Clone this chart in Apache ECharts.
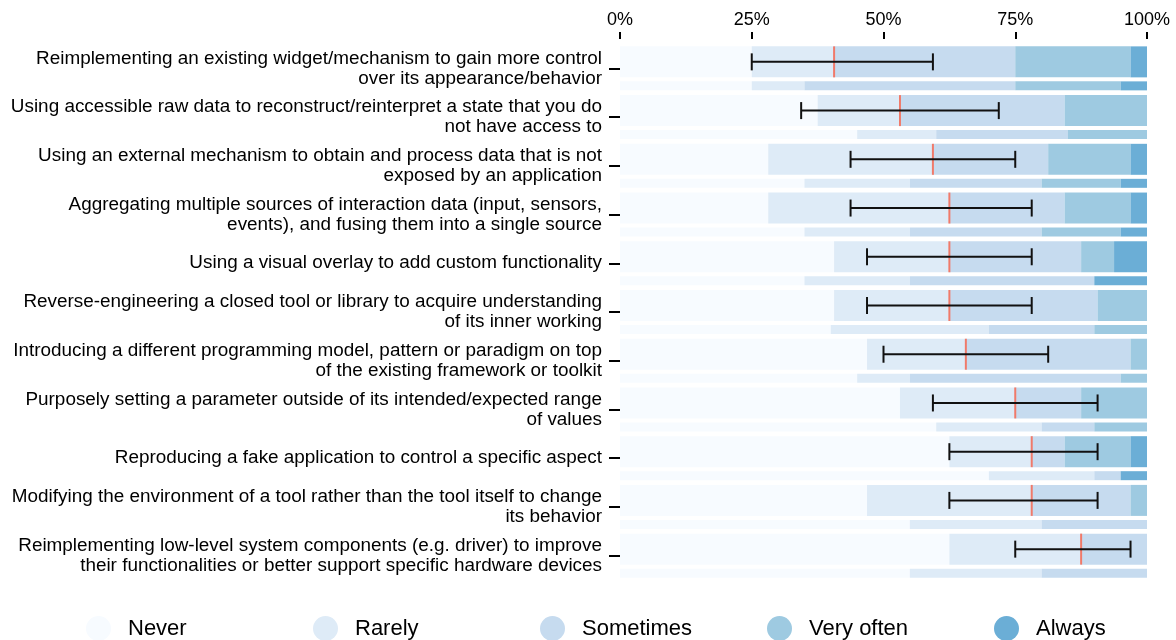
<!DOCTYPE html>
<html>
<head>
<meta charset="utf-8">
<script src="https://cdn.jsdelivr.net/npm/echarts@6/dist/echarts.min.js"></script>
<style>
  html, body { margin: 0; padding: 0; background: #fff; }
  #chart { width: 1176px; height: 640px; }
</style>
</head>
<body>
<div id="chart"></div>
<script>
// ---------- DATA ----------
const categories = [
  "Reimplementing an existing widget/mechanism to gain more control\nover its appearance/behavior",
  "Using accessible raw data to reconstruct/reinterpret a state that you do\nnot have access to",
  "Using an external mechanism to obtain and process data that is not\nexposed by an application",
  "Aggregating multiple sources of interaction data (input, sensors,\nevents), and fusing them into a single source",
  "Using a visual overlay to add custom functionality",
  "Reverse-engineering a closed tool or library to acquire understanding\nof its inner working",
  "Introducing a different programming model, pattern or paradigm on top\nof the existing framework or toolkit",
  "Purposely setting a parameter outside of its intended/expected range\nof values",
  "Reproducing a fake application to control a specific aspect",
  "Modifying the environment of a tool rather than the tool itself to change\nits behavior",
  "Reimplementing low-level system components (e.g. driver) to improve\ntheir functionalities or better support specific hardware devices"
];
const levels = ["Never", "Rarely", "Sometimes", "Very often", "Always"];

// main bars (% of respondents)
const mainNever     = [25, 37.5, 28.125, 28.125, 40.625, 40.625, 46.875, 53.125, 62.5, 46.875, 62.5];
const mainRarely    = [15.625, 15.625, 31.25, 34.375, 21.875, 21.875, 18.75, 21.875, 15.625, 31.25, 25];
const mainSometimes = [34.375, 31.25, 21.875, 21.875, 25, 28.125, 31.25, 12.5, 6.25, 18.75, 12.5];
const mainVeryOften = [21.875, 15.625, 15.625, 12.5, 6.25, 9.375, 3.125, 12.5, 12.5, 3.125, 0];
const mainAlways    = [3.125, 0, 3.125, 3.125, 6.25, 0, 0, 0, 3.125, 0, 0];

// secondary (thin) bars
const secNever     = [25, 45, 35, 35, 35, 40, 45, 60, 70, 55, 55];
const secRarely    = [10, 15, 20, 20, 20, 30, 10, 20, 20, 25, 25];
const secSometimes = [40, 25, 25, 25, 35, 20, 40, 10, 5, 20, 20];
const secVeryOften = [20, 15, 15, 15, 0, 10, 5, 10, 0, 0, 0];
const secAlways    = [5, 0, 5, 5, 10, 0, 0, 0, 5, 0, 0];

// interval (error bar) low/high and median marker
const errLow  = [25, 34.375, 43.75, 43.75, 46.875, 46.875, 50, 59.375, 62.5, 62.5, 75];
const errHigh = [59.375, 71.875, 75, 78.125, 78.125, 78.125, 81.25, 90.625, 90.625, 90.625, 96.875];
const median  = [40.625, 53.125, 59.375, 62.5, 62.5, 62.5, 65.625, 75, 78.125, 78.125, 87.5];

const xTicks = [0, 25, 50, 75, 100];

// ---------- STYLE ----------
const colors = ["#f7fbff", "#deebf7", "#c6dbef", "#9ecae1", "#6baed6"];
const MAIN_W = 31, SEC_W = 9, GAP_PX = 4;
const GAP_PCT = (GAP_PX / MAIN_W * 100) + '%';
const TOTAL_W = MAIN_W + GAP_PX + SEC_W;
const MAIN_OFFSET = -TOTAL_W / 2 + MAIN_W / 2;

const mainData = [mainNever, mainRarely, mainSometimes, mainVeryOften, mainAlways];
const secData = [secNever, secRarely, secSometimes, secVeryOften, secAlways];

const series = [];
levels.forEach((lv, i) => {
  series.push({
    name: lv, type: 'bar', stack: 'main', barWidth: MAIN_W, barGap: GAP_PCT,
    itemStyle: { color: colors[i] }, data: mainData[i], silent: true
  });
});
levels.forEach((lv, i) => {
  series.push({
    name: lv, type: 'bar', stack: 'sec', barWidth: SEC_W, barGap: GAP_PCT,
    itemStyle: { color: colors[i] }, data: secData[i], silent: true
  });
});
series.push({
  type: 'custom', name: 'interval', silent: true, z: 10,
  data: categories.map((c, i) => [i, errLow[i], errHigh[i], median[i]]),
  encode: { y: 0, x: [1, 2] },
  renderItem: function (params, api) {
    const idx = api.value(0);
    const lo = api.coord([api.value(1), idx]);
    const hi = api.coord([api.value(2), idx]);
    const md = api.coord([api.value(3), idx]);
    const y = lo[1] + MAIN_OFFSET;
    const capH = 17;
    const ls = { stroke: '#111', lineWidth: 2 };
    return {
      type: 'group',
      children: [
        { type: 'line', shape: { x1: md[0], y1: y - MAIN_W / 2, x2: md[0], y2: y + MAIN_W / 2 }, style: { stroke: '#f07a6a', lineWidth: 2 } },
        { type: 'line', shape: { x1: lo[0], y1: y, x2: hi[0], y2: y }, style: ls },
        { type: 'line', shape: { x1: lo[0], y1: y - capH / 2, x2: lo[0], y2: y + capH / 2 }, style: ls },
        { type: 'line', shape: { x1: hi[0], y1: y - capH / 2, x2: hi[0], y2: y + capH / 2 }, style: ls }
      ]
    };
  }
});

const legendLefts = [81, 308, 535, 762, 989];
const legends = levels.map((lv, i) => ({
  data: [lv], left: legendLefts[i], top: 611, icon: 'circle',
  itemWidth: 25, itemHeight: 25, selectedMode: false,
  textStyle: { fontSize: 22, color: '#000', fontFamily: 'Liberation Sans', padding: [0, 0, 0, 12] }
}));

const chart = echarts.init(document.getElementById('chart'), null, { renderer: 'canvas' });
chart.setOption({
  animation: false,
  backgroundColor: '#fff',
  textStyle: { fontFamily: 'Liberation Sans' },
  grid: { left: 620, right: 29, top: 44, bottom: 60, containLabel: false },
  legend: legends,
  xAxis: {
    type: 'value', position: 'top', min: 0, max: 100, interval: 25, offset: 5,
    axisLine: { show: false },
    axisTick: { show: true, length: 7, lineStyle: { color: '#000', width: 2 } },
    splitLine: { show: false },
    axisLabel: { margin: 10, fontSize: 18, color: '#000', fontFamily: 'Liberation Sans',
      formatter: v => xTicks.includes(v) ? v + '%' : '' }
  },
  yAxis: {
    type: 'category', data: categories, inverse: true,
    axisLine: { show: false },
    axisTick: { show: true, alignWithLabel: true, length: 11, lineStyle: { color: '#000', width: 2 } },
    axisLabel: { margin: 18, fontSize: 18.9, lineHeight: 20, color: '#000', fontFamily: 'Liberation Sans', align: 'right' }
  },
  series: series
});
</script>
</body>
</html>
